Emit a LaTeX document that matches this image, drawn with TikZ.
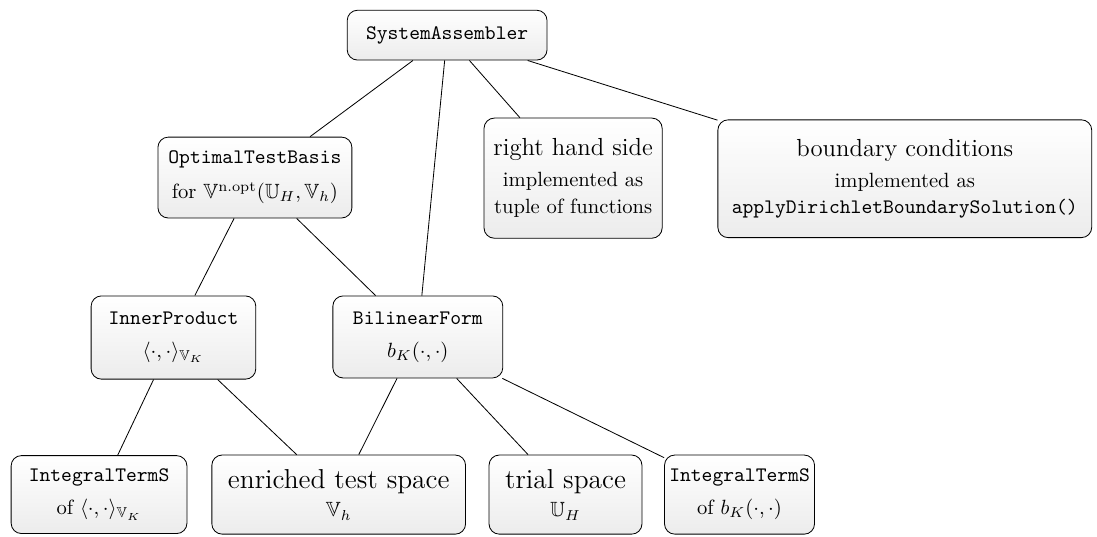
\documentclass[tikz,border=0pt]{standalone}
\usepackage{amsmath}
\usepackage{amssymb}
\usepackage{tikz}
\usetikzlibrary{calc}
\usetikzlibrary{positioning}

\tikzset{box/.style={draw, rounded corners=5pt, top color=white, bottom color=gray!15, align=center, inner sep=2pt}}

\begin{document}
\begin{tikzpicture}
				\useasboundingbox (0,0) rectangle (18.72,-9.15);
				\node[box, minimum width=3.41cm, minimum height=0.85cm] (SA) at (7.63,-0.60) {\texttt{SystemAssembler}};
				\node[box, minimum width=3.31cm, minimum height=1.38cm] (OTB) at (4.35,-3.03) {\texttt{OptimalTestBasis}\\[5pt] for $\mathbb{V}^{\text{n.opt}}(\mathbb{U}_H,\mathbb{V}_h)$};
				\node[box, minimum width=3.04cm, minimum height=2.05cm] (RHS) at (9.78,-3.04) {{\large right hand side}\\[3pt] implemented as\\[1pt] tuple of functions};
				\node[box, minimum width=6.38cm, minimum height=2.01cm] (BC) at (15.44,-3.05) {{\large boundary conditions}\\[3pt] implemented as\\[1pt] \texttt{applyDirichletBoundarySolution()}};
				\node[box, minimum width=2.81cm, minimum height=1.42cm] (IP) at (2.96,-5.76) {\texttt{InnerProduct}\\[4pt] $\langle\cdot,\cdot\rangle_{\mathbb{V}_K}$};
				\node[box, minimum width=2.90cm, minimum height=1.40cm] (BF) at (7.13,-5.75) {\texttt{BilinearForm}\\[4pt] $b_K(\cdot,\cdot)$};
				\node[box, minimum width=3.00cm, minimum height=1.33cm] (ITi) at (1.69,-8.44) {\texttt{IntegralTermS}\\[4pt] of $\langle\cdot,\cdot\rangle_{\mathbb{V}_K}$};
				\node[box, minimum width=4.33cm, minimum height=1.35cm] (ETS) at (5.78,-8.44) {{\fontsize{13.3}{16}\selectfont enriched test space}\\[2pt] $\mathbb{V}_h$};
				\node[box, minimum width=2.61cm, minimum height=1.35cm] (TS) at (9.65,-8.44) {{\fontsize{13.3}{16}\selectfont trial space}\\[2pt] $\mathbb{U}_H$};
				\node[box, minimum width=2.56cm, minimum height=1.35cm] (ITb) at (12.62,-8.44) {\texttt{IntegralTermS}\\[4pt] of $b_K(\cdot,\cdot)$};
				
				\draw (SA) -- (OTB);
				\draw (SA) -- (BF);
				\draw (SA) -- (RHS);
				\draw (SA) -- (BC);
				\draw (OTB) -- (IP);
				\draw (OTB) -- (BF);
				\draw (IP) -- (ITi);
				\draw (IP) -- (ETS);
				\draw (BF) -- (ETS);
				\draw (BF) -- (TS);
				\draw (BF) -- (ITb);
			\end{tikzpicture}
\end{document}
